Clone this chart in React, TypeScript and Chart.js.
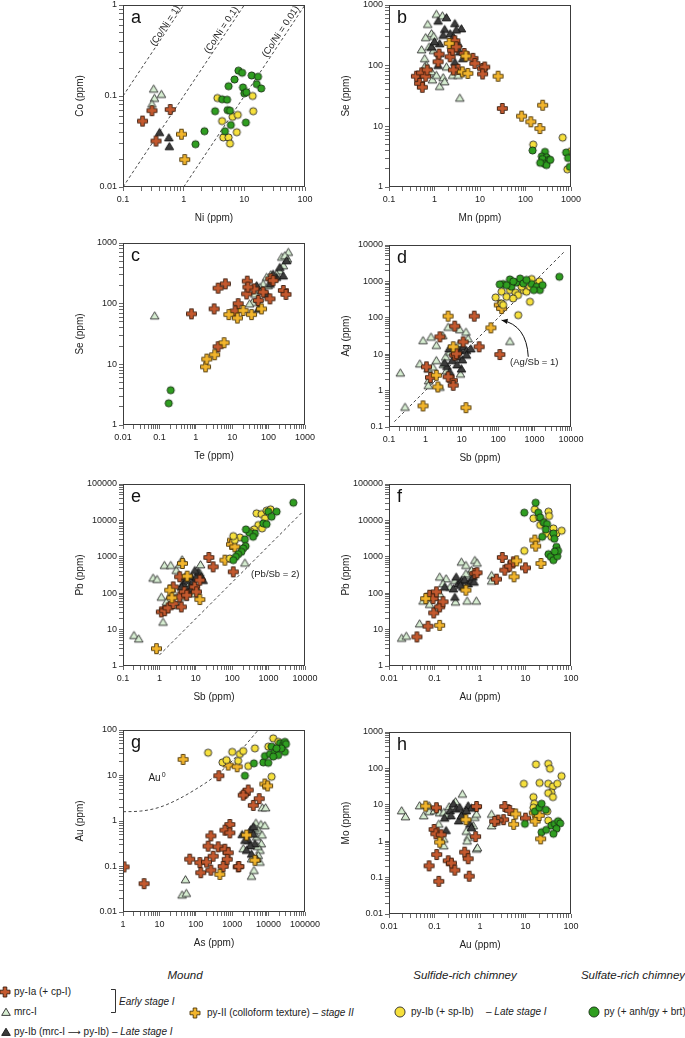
import React, { useEffect, useRef } from 'react';
import { Chart, registerables } from 'chart.js';

Chart.register(...registerables);

const FONT = '"Liberation Sans", Arial, Helvetica, sans-serif';

// ---------------- DATA ----------------
// series order in every panel: mrc-I, py-Ib (mrc-I -> py-Ib), py-Ia, py-II, py-Ib (sulfide chimney), py (sulfate chimney)

// Panel a: Ni (x) vs Co (y)
const aMrc = [[0.32, 0.12], [0.43, 0.105], [0.33, 0.095], [0.30, 0.082]];
const aPyIbM = [[0.40, 0.040], [0.57, 0.035], [0.58, 0.028]];
const aPyIa = [[0.21, 0.053], [0.30, 0.069], [0.60, 0.071], [0.35, 0.032]];
const aPyII = [[0.92, 0.038], [1.04, 0.020]];
const aPyIbS = [[3.6, 0.095], [4.3, 0.053], [4.5, 0.035], [5.5, 0.035], [5.8, 0.030], [6.4, 0.059], [7.8, 0.062], [7.5, 0.040], [13.7, 0.10], [14, 0.068]];
const aPy = [[1.57, 0.0295], [2.2, 0.041], [3.3, 0.068], [4.3, 0.092], [5.2, 0.091], [5.5, 0.128], [5.3, 0.070], [5.8, 0.069], [6.0, 0.048], [4.8, 0.041], [6.9, 0.152], [8.0, 0.19], [9.2, 0.18], [9.5, 0.124], [10, 0.107], [10.8, 0.11], [10.6, 0.051], [13.2, 0.168], [16.8, 0.163], [16, 0.135], [19, 0.121]];
const CO_NI_RATIOS = [1, 0.1, 0.01];
const CO_NI_LABELS = ['(Co/Ni = 1)', '(Co/Ni = 0.1)', '(Co/Ni = 0.01)'];

// Panel b: Mn (x) vs Se (y)
const bMrc = [[1.10, 710], [1.49, 667], [0.71, 485], [0.86, 340], [0.96, 307], [0.64, 293], [0.52, 185], [0.61, 132], [0.76, 205], [0.66, 102], [0.86, 80], [0.90, 59], [1.3, 46], [1.55, 64], [1.67, 55], [1.83, 96], [2.5, 70], [3.3, 70], [3.6, 29.5], [1.3, 159], [0.61, 96], [1.1, 70], [0.95, 180]];
const bPyIbM = [[1.2, 550], [1.83, 625], [2.8, 500], [3.9, 410], [1.67, 400], [1.3, 233], [1.2, 102], [3.3, 233], [2.8, 115], [2.2, 340], [0.86, 205], [2.6, 300], [3.6, 170], [1.0, 250], [1.55, 320], [3.0, 390], [4.2, 132]];
const bPyIa = [[0.40, 67], [0.52, 76], [0.47, 51], [0.54, 44], [0.64, 67], [0.69, 85], [1.2, 116], [1.26, 155], [2.2, 140], [2.5, 180], [2.8, 258], [3.0, 205], [3.3, 87], [2.6, 85], [4.5, 159], [7.0, 132], [7.7, 109], [11.4, 90], [12.7, 95], [11.4, 73], [31, 19.7]];
const bPyII = [[2.1, 233], [4.9, 144], [4.1, 79], [5.4, 74.5], [25, 67], [82, 14.7], [131, 11.9], [207, 9.2], [238, 22.3]];
const bPyIbS = [[148, 5.0], [656, 6.5], [1000, 3.9], [830, 1.96]];
const bPy = [[143, 4.0], [268, 3.8], [228, 3.2], [290, 3.1], [236, 2.9], [330, 2.8], [262, 2.4], [290, 2.3], [350, 2.8], [780, 3.7], [860, 3.0], [940, 2.15], [210, 2.5]];

// Panel c: Te (x) vs Se (y)
const cMrc = [[0.074, 63.6], [348, 710], [330, 550], [254, 427], [200, 350], [166, 310], [115, 303], [88, 275], [71, 212], [58, 187], [47, 175], [97, 200], [64, 165], [42, 145], [36, 106], [30, 100], [52, 120], [230, 590], [280, 625], [133, 257]];
const cPyIbM = [[313, 516], [253, 290], [203, 400], [166, 275], [110, 212], [133, 310], [71, 165], [52, 82], [47, 200], [88, 145]];
const cPyIa = [[0.76, 68], [3.2, 82], [4.1, 180], [6.5, 212], [26, 235], [39.5, 175], [25, 145], [14.6, 100], [12, 76], [52, 113], [71, 155], [109, 120], [115, 257], [133, 240], [254, 165], [300, 142], [27, 188], [4.1, 19.5]];
const cPyII = [[8.1, 66], [13.9, 58], [20, 77], [34, 66], [64, 82], [1.85, 9.1], [2.0, 12.2], [3.3, 14.4], [6.0, 22.7]];
const cPyIbS: number[][] = [];
const cPy = [[0.205, 3.74], [0.18, 2.28]];

// Panel d: Sb (x) vs Ag (y)
const dMrc = [[0.205, 3.1], [0.276, 0.355], [0.86, 24], [1.43, 30], [2.0, 17.7], [3.0, 33], [4.2, 56], [8.8, 48], [13, 41], [14.9, 27], [8.4, 19.7], [0.7, 5.5], [1.18, 4.0], [1.6, 4.5], [3.1, 5.3], [2.0, 6.8], [1.23, 1.9], [2.5, 1.26], [1.2, 1.4], [210, 22.8], [3.6, 8.5], [4.7, 11.6], [9.2, 2.9], [3.8, 3.6]];
const dPyIbM = [[4.5, 14.3], [6.4, 10.4], [8.8, 12.9], [10.9, 16], [13.5, 12.9], [17.7, 14.3], [7.9, 8.5], [10.4, 7.1], [13.5, 9.6], [5.5, 6.8], [3.9, 4.7], [4.7, 3.3], [9.8, 4.0], [7.4, 5.2], [3.4, 5.8]];
const dPyIa = [[22, 111], [6.4, 59], [2.5, 30], [10.9, 21.8], [30, 16], [111, 9.8], [1.07, 4.5], [1.38, 2.3], [5.5, 1.9], [4.2, 2.4], [5.8, 1.4], [6.4, 9.4], [7.1, 10.3]];
const dPyII = [[4.2, 111], [5.8, 16], [2.0, 2.64], [2.2, 1.26], [0.86, 0.38], [13, 0.34], [63, 53], [107, 224], [124, 180]];
const dPyIbS = [[85, 363], [124, 520], [170, 378], [124, 248], [137, 225], [210, 577], [300, 490], [350, 420], [490, 577], [600, 520], [750, 715], [1000, 880], [1350, 1000], [745, 275], [355, 118], [257, 340], [440, 715], [830, 1160]];
const dPy = [[4780, 1340], [137, 845], [210, 1135], [230, 713], [316, 930], [400, 1200], [490, 880], [830, 845], [1135, 713], [1400, 577], [1660, 790], [950, 577], [170, 790], [260, 1000], [600, 1100], [110, 830]];
const AG_SB_RATIO = 1;
const AG_SB_LINE_X = [0.14, 6800];

// Panel e: Sb (x) vs Pb (y)
const eMrc = [[0.2, 7.0], [0.27, 5.65], [0.67, 264], [0.86, 243], [1.37, 590], [2.05, 590], [2.9, 430], [3.6, 628], [4.2, 845], [13.5, 615], [1.26, 16.3], [1.13, 79], [1.55, 58], [2.0, 88], [2.9, 47], [4.9, 79], [8.4, 98], [10.4, 134], [223, 684], [2.4, 109], [12.9, 364], [6.7, 185]];
const ePyIbM = [[4.45, 185], [5.5, 228], [6.8, 149], [7.6, 282], [8.4, 205], [10.4, 282], [11.6, 386], [14.3, 282], [15.9, 228], [9.4, 430], [6.1, 109], [7.6, 134], [4.0, 149], [5.0, 282]];
const ePyIa = [[22.8, 960], [30, 530], [107, 386], [3.6, 282], [2.4, 149], [4.0, 42], [1.13, 30.6], [1.4, 33], [1.73, 39.5], [2.4, 52], [3.6, 79], [4.8, 109], [9.3, 149], [10.4, 109], [12.9, 228], [5.6, 88]];
const ePyII = [[4.3, 656], [5.8, 294], [1.92, 121], [2.2, 74.5], [12.9, 67], [0.83, 3.0], [102, 2880], [96, 2190], [63, 810], [118, 1880]];
const ePyIbS = [[468, 15600], [640, 14900], [795, 11400], [880, 18500], [1130, 20100], [520, 7450], [660, 6030], [400, 5660], [320, 4880], [163, 3400], [118, 2880], [86, 900], [107, 3700]];
const ePy = [[4780, 30600], [980, 17400], [1660, 17400], [1210, 12600], [713, 8260], [880, 7900], [420, 4380], [294, 4580], [238, 5650], [375, 3550], [223, 3000], [233, 1970], [200, 1700], [179, 1370], [146, 1180], [126, 1000], [107, 810]];
const PB_SB_RATIO = 2;
const PB_SB_LINE_X = [1, 8000];

// Panel f: Au (x) vs Pb (y)
const fMrc = [[0.019, 5.9], [0.024, 6.7], [0.047, 14.6], [0.056, 62], [0.078, 50], [0.116, 42], [0.10, 79], [0.13, 98], [0.18, 254], [0.28, 228], [0.22, 149], [0.29, 58], [0.52, 62], [0.83, 62], [0.39, 728], [0.49, 590], [0.65, 430], [0.77, 810], [0.86, 684], [0.55, 313], [1.8, 313], [1.8, 219], [0.13, 282], [0.154, 185], [0.066, 79], [0.49, 346]];
const fPyIbM = [[0.167, 149], [0.28, 79], [0.33, 185], [0.39, 228], [0.46, 236], [0.55, 185], [0.65, 228], [0.7, 282], [0.74, 205], [0.42, 149], [0.26, 134], [0.3, 282], [0.37, 167]];
const fPyIa = [[0.041, 6.3], [0.072, 12.4], [0.078, 88], [0.093, 71], [0.096, 28.8], [0.13, 42], [0.154, 58], [0.11, 109], [0.77, 348], [0.86, 365], [3.1, 960], [3.5, 430], [4.5, 553], [5.4, 728], [10, 498], [2.3, 243]];
const fPyII = [[0.064, 71], [0.13, 13.1], [0.49, 121], [6.4, 775], [5.6, 282], [21.9, 656], [16, 2880], [16.7, 1970]];
const fPyIbS = [[9.4, 1460], [16, 20100], [14.9, 11400], [20, 12100], [21, 7450], [24.6, 9180], [32, 17400], [33, 13200], [28.5, 4380], [37, 3550], [48, 4380], [62.4, 5200], [41, 6030]];
const fPy = [[16.7, 30600], [9.4, 16300], [19.1, 16300], [21, 12100], [25.4, 8630], [29.7, 7940], [28, 5650], [23.3, 3550], [41, 4380], [43, 3130], [32, 1180], [36, 1000], [41, 810], [50, 1040], [48, 1880], [52, 1460], [44, 1400]];

// Panel g: As (x) vs Au (y)
const gMrc = [[52, 0.052], [42, 0.024], [55, 0.026], [6700, 1.98], [8270, 1.98], [4480, 0.91], [6150, 0.85], [5200, 0.63], [4700, 0.45], [6300, 0.32], [5800, 0.23], [5200, 0.177], [3400, 0.149], [5800, 0.126], [3400, 0.062], [3970, 0.083], [2010, 0.25], [7900, 0.8], [4200, 0.7], [6600, 0.5], [5000, 0.28]];
const gPyIbM = [[1880, 0.51], [2750, 0.38], [3200, 0.65], [3800, 0.75], [4200, 0.32], [3100, 0.29], [2480, 0.23], [3400, 0.19], [4700, 0.15], [3800, 0.52], [2230, 0.38]];
const gPyIa = [[1.07, 0.098], [3.8, 0.042], [430, 9.9], [2230, 4.0], [2750, 4.8], [2010, 3.7], [3790, 2.2], [5530, 3.1], [860, 0.84], [630, 0.63], [860, 0.55], [260, 0.47], [218, 0.28], [412, 0.27], [630, 0.24], [776, 0.2], [300, 0.168], [68, 0.145], [129, 0.122], [196, 0.125], [137, 0.073], [260, 0.083], [565, 0.1], [730, 0.144], [1460, 0.098], [1530, 0.1]];
const gPyII = [[44.8, 22.6], [776, 17], [1370, 15.6], [7900, 6.5], [9400, 5.9], [2480, 0.49], [4200, 0.137], [458, 0.067]];
const gPyIbS = [[218, 31.7], [542, 19.4], [698, 21.8], [1000, 33], [1460, 21], [1620, 29.6], [2010, 34.5], [2750, 16.1], [4200, 39.5], [12100, 9.4], [13400, 65.6], [9800, 43], [18400, 55]];
const gPy = [[2230, 9.9], [3950, 18.5], [7130, 19.4], [7920, 26.8], [9800, 19], [10900, 29.6], [12100, 43], [14900, 33], [20500, 51], [25000, 47], [28000, 55], [30000, 49], [28000, 33], [22400, 39.5], [18400, 28], [13400, 26], [16500, 39.5]];
const AU0_CURVE = [[1, 1.6], [3, 1.65], [10, 2.0], [30, 2.9], [100, 5.0], [300, 9.0], [1000, 21], [2500, 50], [5200, 100]];

// Panel h: Au (x) vs Mo (y)
const hMrc = [[0.019, 7.0], [0.023, 4.8], [0.047, 9.6], [0.058, 5.1], [0.076, 6.6], [0.076, 9.6], [0.1, 7.0], [0.116, 8.6], [0.124, 3.0], [0.13, 6.1], [0.16, 6.3], [0.16, 1.16], [0.16, 0.76], [0.21, 9.0], [0.18, 5.1], [0.29, 12.4], [0.41, 20], [0.5, 1.9], [0.55, 1.29], [0.52, 1.03], [0.71, 2.7], [0.77, 4.6], [0.84, 0.62], [0.88, 0.67], [0.84, 5.6], [1.8, 5.6], [1.8, 2.7]];
const hPyIbM = [[0.18, 2.0], [0.167, 4.4], [0.22, 7.0], [0.26, 10.7], [0.3, 7.8], [0.36, 8.6], [0.42, 5.9], [0.55, 9.6], [0.65, 8.2], [0.34, 3.7], [0.39, 5.1], [0.6, 3.0], [0.84, 9.6], [0.23, 5.1], [0.5, 7.0], [0.65, 2.4]];
const hPyIa = [[0.11, 8.3], [0.098, 2.1], [0.107, 1.6], [0.14, 1.5], [0.112, 0.43], [0.076, 0.21], [0.124, 0.079], [0.2, 0.29], [0.235, 0.25], [0.28, 0.16], [0.46, 0.5], [0.55, 0.33], [0.58, 0.109], [0.8, 1.34], [0.84, 9.0], [3.5, 9.0], [4.5, 7.0], [3.3, 3.9], [2.5, 3.8], [2.1, 3.5], [10, 4.3]];
const hPyII = [[0.064, 9.2], [0.13, 0.94], [0.49, 3.9], [6.1, 5.6], [5.5, 2.9], [15.6, 6.0], [16.3, 3.55], [20, 5.1], [21.5, 1.16]];
const hPyIbS = [[9.2, 37.8], [17, 129], [31.6, 134], [34.5, 98], [20.4, 40], [31.6, 38], [40, 32], [37, 22], [31.6, 21], [40, 16.3], [62, 61.5], [50, 38], [14.9, 16.3], [15.6, 10.7], [14.9, 8.3], [30, 6.6], [31.6, 3.7]];
const hPy = [[9.7, 3.0], [16.1, 6.6], [20.1, 8.3], [22.6, 10.7], [28, 7.3], [22.6, 1.77], [28.5, 2.05], [37, 2.7], [44, 3.0], [52, 3.55], [58, 3.1], [48, 2.2], [41, 1.6]];

// ---------------- STYLES ----------------
const SERIES = [
  { label: 'mrc-I', kind: 'tri', fill: '#d6edd1', stroke: '#2a2a2a', order: 6 },
  { label: 'py-Ib (mrc-I → py-Ib)', kind: 'tri', fill: '#3c3c3c', stroke: '#111111', order: 5 },
  { label: 'py-Ia (+ cp-I)', kind: 'cross', fill: '#c4592e', stroke: '#3a1c0c', order: 4 },
  { label: 'py-II (colloform texture)', kind: 'cross', fill: '#f2b52c', stroke: '#4d3507', order: 3 },
  { label: 'py-Ib (+ sp-Ib)', kind: 'circle', fill: '#f6e03c', stroke: '#2a2a2a', order: 2 },
  { label: 'py (+ anh/gy + brt)', kind: 'circle', fill: '#2f9e20', stroke: '#163012', order: 1 },
];

function shapePath(g: CanvasRenderingContext2D, kind: string, m: number, scale: number) {
  g.beginPath();
  if (kind === 'cross') {
    const h = 5 * scale, t = 1.8 * scale;
    g.moveTo(m - t, m - h); g.lineTo(m + t, m - h); g.lineTo(m + t, m - t); g.lineTo(m + h, m - t);
    g.lineTo(m + h, m + t); g.lineTo(m + t, m + t); g.lineTo(m + t, m + h); g.lineTo(m - t, m + h);
    g.lineTo(m - t, m + t); g.lineTo(m - h, m + t); g.lineTo(m - h, m - t); g.lineTo(m - t, m - t);
  } else if (kind === 'tri') {
    g.moveTo(m, m - 3.8 * scale); g.lineTo(m + 4.3 * scale, m + 3.4 * scale); g.lineTo(m - 4.3 * scale, m + 3.4 * scale);
  } else {
    g.arc(m, m, 3.6 * scale, 0, Math.PI * 2);
  }
  g.closePath();
}

function markerCanvas(kind: string, fill: string, stroke: string) {
  const S = 13;
  const c = document.createElement('canvas');
  c.width = S; c.height = S;
  const g = c.getContext('2d') as CanvasRenderingContext2D;
  shapePath(g, kind, S / 2, 1);
  g.fillStyle = fill; g.fill();
  g.lineWidth = 0.9; g.strokeStyle = stroke; g.stroke();
  return c;
}

// ---------------- HELPERS ----------------
function logTicks(min: number, max: number) {
  const out: any[] = [];
  const e0 = Math.floor(Math.log10(min) + 1e-9);
  const e1 = Math.ceil(Math.log10(max) - 1e-9);
  for (let e = e0; e <= e1; e++) {
    for (let m = 1; m <= 9; m++) {
      const v = m * Math.pow(10, e);
      if (v >= min * 0.999 && v <= max * 1.001) out.push({ value: v, major: m === 1 });
    }
  }
  return out;
}
function fmt(v: number) {
  const e = Math.round(Math.log10(v));
  return e < 0 ? v.toFixed(-e) : String(Math.round(v));
}
function ratioSegment(r: number, xMin: number, xMax: number, yMin: number, yMax: number) {
  const x0 = Math.max(xMin, yMin / r), x1 = Math.min(xMax, yMax / r);
  return [[x0, x0 * r], [x1, x1 * r]];
}

const PLOT = 182, YW = 60, XH = 40, PT = 12, PR = 20;
const CW = YW + PLOT + PR, CH = PT + PLOT + XH;

const PANELS: any[] = [
  {
    letter: 'a', left: 123, top: 5, x: [0.1, 100], y: [0.01, 1], xTitle: 'Ni (ppm)', yTitle: 'Co (ppm)',
    data: [aMrc, aPyIbM, aPyIa, aPyII, aPyIbS, aPy],
    lines: CO_NI_RATIOS.map((r) => ({ pts: ratioSegment(r, 0.1, 100, 0.01, 1) })),
    notes: [
      { x: 0.5, y: 0.59, text: CO_NI_LABELS[0], ratio: CO_NI_RATIOS[0] },
      { x: 4.2, y: 0.53, text: CO_NI_LABELS[1], ratio: CO_NI_RATIOS[1] },
      { x: 40, y: 0.51, text: CO_NI_LABELS[2], ratio: CO_NI_RATIOS[2] },
    ],
  },
  {
    letter: 'b', left: 389, top: 5, x: [0.1, 1000], y: [1, 1000], xTitle: 'Mn (ppm)', yTitle: 'Se (ppm)',
    data: [bMrc, bPyIbM, bPyIa, bPyII, bPyIbS, bPy], lines: [], notes: [],
  },
  {
    letter: 'c', left: 123, top: 243, x: [0.01, 1000], y: [1, 1000], xTitle: 'Te (ppm)', yTitle: 'Se (ppm)',
    data: [cMrc, cPyIbM, cPyIa, cPyII, cPyIbS, cPy], lines: [], notes: [],
  },
  {
    letter: 'd', left: 389, top: 245, x: [0.1, 10000], y: [0.1, 10000], xTitle: 'Sb (ppm)', yTitle: 'Ag (ppm)',
    data: [dMrc, dPyIbM, dPyIa, dPyII, dPyIbS, dPy],
    lines: [{ pts: AG_SB_LINE_X.map((x) => [x, x * AG_SB_RATIO]) }],
    notes: [{ x: 980, y: 5.9, text: '(Ag/Sb = 1)' }],
    arrow: { from: [670, 8.5], ctrl: [603, 63], to: [124, 86] },
  },
  {
    letter: 'e', left: 123, top: 484, x: [0.1, 10000], y: [1, 100000], xTitle: 'Sb (ppm)', yTitle: 'Pb (ppm)',
    data: [eMrc, ePyIbM, ePyIa, ePyII, ePyIbS, ePy],
    lines: [{ pts: PB_SB_LINE_X.map((x) => [x, x * PB_SB_RATIO]) }],
    notes: [{ x: 1525, y: 327, text: '(Pb/Sb = 2)' }],
  },
  {
    letter: 'f', left: 389, top: 484, x: [0.01, 100], y: [1, 100000], xTitle: 'Au (ppm)', yTitle: 'Pb (ppm)',
    data: [fMrc, fPyIbM, fPyIa, fPyII, fPyIbS, fPy], lines: [], notes: [],
  },
  {
    letter: 'g', left: 123, top: 730, x: [1, 100000], y: [0.01, 100], xTitle: 'As (ppm)', yTitle: 'Au (ppm)',
    data: [gMrc, gPyIbM, gPyIa, gPyII, gPyIbS, gPy],
    lines: [{ pts: AU0_CURVE, smooth: true }],
    notes: [{ x: 8.6, y: 8.6, text: 'Au', sup: '0' }],
  },
  {
    letter: 'h', left: 389, top: 732, x: [0.01, 100], y: [0.01, 1000], xTitle: 'Au (ppm)', yTitle: 'Mo (ppm)',
    data: [hMrc, hPyIbM, hPyIa, hPyII, hPyIbS, hPy], lines: [], notes: [],
  },
];

const decorPlugin = {
  id: 'decor',
  afterDatasetsDraw(chart: any, _args: any, o: any) {
    const { ctx, chartArea: a, scales } = chart;
    const sx = scales.x, sy = scales.y;
    const px = (v: number) => sx.getPixelForValue(v);
    const py = (v: number) => sy.getPixelForValue(v);
    ctx.save();
    ctx.strokeStyle = '#3c3c3c';
    ctx.lineWidth = 1;
    ctx.strokeRect(Math.round(a.left) + 0.5, Math.round(a.top) + 0.5, Math.round(a.width) - 1, Math.round(a.height) - 1);

    ctx.fillStyle = '#111';
    ctx.font = `18px ${FONT}`;
    ctx.textAlign = 'left';
    ctx.textBaseline = 'alphabetic';
    ctx.fillText(o.letter, a.left + 8, a.top + 18);

    ctx.fillStyle = '#222';
    (o.notes || []).forEach((n: any) => {
      ctx.save();
      ctx.translate(px(n.x), py(n.y));
      if (n.ratio) {
        const ang = Math.atan2(py(10 * n.ratio) - py(n.ratio), px(10) - px(1));
        ctx.rotate(ang);
      }
      ctx.textBaseline = 'middle';
      if (n.sup) {
        ctx.font = `10px ${FONT}`;
        const w1 = ctx.measureText(n.text).width;
        ctx.font = `7px ${FONT}`;
        const w2 = ctx.measureText(n.sup).width;
        const x0 = -(w1 + w2 + 1) / 2;
        ctx.textAlign = 'left';
        ctx.font = `10px ${FONT}`;
        ctx.fillText(n.text, x0, 0);
        ctx.font = `7px ${FONT}`;
        ctx.fillText(n.sup, x0 + w1 + 1, -3);
      } else {
        ctx.font = `9.5px ${FONT}`;
        ctx.textAlign = 'center';
        ctx.fillText(n.text, 0, 0);
      }
      ctx.restore();
    });

    if (o.arrow) {
      const f = o.arrow.from, c = o.arrow.ctrl, t = o.arrow.to;
      const x0 = px(f[0]), y0 = py(f[1]), cx = px(c[0]), cy = py(c[1]), x1 = px(t[0]), y1 = py(t[1]);
      ctx.strokeStyle = '#111';
      ctx.lineWidth = 1;
      ctx.beginPath();
      ctx.moveTo(x0, y0);
      ctx.quadraticCurveTo(cx, cy, x1, y1);
      ctx.stroke();
      const ang = Math.atan2(y1 - cy, x1 - cx);
      const L = 6, W = 2.6;
      ctx.fillStyle = '#111';
      ctx.beginPath();
      ctx.moveTo(x1, y1);
      ctx.lineTo(x1 - L * Math.cos(ang) + W * Math.sin(ang), y1 - L * Math.sin(ang) - W * Math.cos(ang));
      ctx.lineTo(x1 - L * Math.cos(ang) - W * Math.sin(ang), y1 - L * Math.sin(ang) + W * Math.cos(ang));
      ctx.closePath();
      ctx.fill();
    }
    ctx.restore();
  },
};

function axisOpts(horiz: boolean, range: number[], title: string) {
  const [min, max] = range;
  return {
    type: 'logarithmic',
    min, max,
    position: horiz ? 'bottom' : 'left',
    afterBuildTicks: (s: any) => { s.ticks = logTicks(min, max); },
    afterFit: (s: any) => { if (horiz) s.height = XH; else s.width = YW; },
    ticks: {
      autoSkip: false, maxRotation: 0, minRotation: 0,
      padding: horiz ? 3 : 2,
      font: { size: 9, family: FONT }, color: '#222',
      callback: (v: number, i: number, ticks: any[]) => (ticks[i] && ticks[i].major ? fmt(v) : ''),
    },
    grid: { drawOnChartArea: false, drawTicks: true, tickLength: 4, color: '#444', lineWidth: 0.8 },
    border: { display: false },
    title: {
      display: true, text: title, color: '#222',
      font: { size: 10, family: FONT },
      padding: horiz ? { top: 0, bottom: 3 } : { top: 11, bottom: 0 },
    },
  };
}

function Panel({ p }: { p: any }) {
  const ref = useRef<HTMLCanvasElement | null>(null);
  useEffect(() => {
    const markers = SERIES.map((s) => markerCanvas(s.kind, s.fill, s.stroke));
    const datasets: any[] = [];
    SERIES.forEach((s, i) => {
      const pts = p.data[i];
      if (!pts || !pts.length) return;
      datasets.push({
        type: 'scatter', label: s.label,
        data: pts.map((q: number[]) => ({ x: q[0], y: q[1] })),
        pointStyle: markers[i], pointRadius: 4, pointHoverRadius: 4,
        order: s.order,
      });
    });
    p.lines.forEach((l: any) => {
      datasets.push({
        type: 'line', label: 'ref',
        data: l.pts.map((q: number[]) => ({ x: q[0], y: q[1] })),
        showLine: true, fill: false, borderColor: '#333', borderWidth: 0.9,
        borderDash: [3, 2.5], pointRadius: 0,
        tension: l.smooth ? 0.4 : 0,
        cubicInterpolationMode: l.smooth ? 'monotone' : 'default',
        order: 20,
      });
    });
    const chart = new Chart(ref.current as HTMLCanvasElement, {
      type: 'scatter',
      data: { datasets },
      options: {
        responsive: false, animation: false, events: [],
        layout: { padding: { left: 0, right: PR, top: PT, bottom: 0 } },
        plugins: {
          legend: { display: false }, tooltip: { enabled: false },
          decor: { letter: p.letter, notes: p.notes, arrow: p.arrow },
        } as any,
        scales: {
          x: axisOpts(true, p.x, p.xTitle) as any,
          y: axisOpts(false, p.y, p.yTitle) as any,
        },
      },
      plugins: [decorPlugin],
    } as any);
    return () => chart.destroy();
  }, []);
  return (
    <canvas
      ref={ref}
      width={CW}
      height={CH}
      style={{ position: 'absolute', left: p.left - YW, top: p.top - PT, width: CW, height: CH }}
    />
  );
}

function Icon({ kind, fill, stroke, cx, cy, scale }: any) {
  const S = 16;
  const m = S / 2;
  let el: any;
  if (kind === 'cross') {
    const h = 5 * scale, t = 1.8 * scale;
    const pts = [[m - t, m - h], [m + t, m - h], [m + t, m - t], [m + h, m - t], [m + h, m + t], [m + t, m + t], [m + t, m + h], [m - t, m + h], [m - t, m + t], [m - h, m + t], [m - h, m - t], [m - t, m - t]];
    el = <polygon points={pts.map((q) => q.join(',')).join(' ')} fill={fill} stroke={stroke} strokeWidth={0.9} />;
  } else if (kind === 'tri') {
    const pts = [[m, m - 3.8 * scale], [m + 4.3 * scale, m + 3.4 * scale], [m - 4.3 * scale, m + 3.4 * scale]];
    el = <polygon points={pts.map((q) => q.join(',')).join(' ')} fill={fill} stroke={stroke} strokeWidth={0.9} />;
  } else {
    el = <circle cx={m} cy={m} r={3.6 * scale} fill={fill} stroke={stroke} strokeWidth={0.9} />;
  }
  return (
    <svg width={S} height={S} style={{ position: 'absolute', left: cx - m, top: cy - m, overflow: 'visible' }}>
      {el}
    </svg>
  );
}

const txt: any = { position: 'absolute', fontFamily: FONT, fontSize: 10, lineHeight: '12px', color: '#222', whiteSpace: 'nowrap' };
const head: any = { position: 'absolute', fontFamily: FONT, fontSize: 11.5, lineHeight: '14px', color: '#222', whiteSpace: 'nowrap', fontStyle: 'italic', transform: 'translateX(-50%)' };

export default function App() {
  return (
    <div style={{ position: 'absolute', left: 0, top: 0, width: 685, height: 1038, background: '#fff', overflow: 'hidden' }}>
      {PANELS.map((p) => <Panel key={p.letter} p={p} />)}

      <div style={{ ...head, left: 185, top: 968 }}>Mound</div>
      <div style={{ ...head, left: 465, top: 968 }}>Sulfide-rich chimney</div>
      <div style={{ ...head, left: 633, top: 968 }}>Sulfate-rich chimney</div>

      <Icon kind="cross" fill={SERIES[2].fill} stroke={SERIES[2].stroke} cx={5} cy={992} scale={1} />
      <div style={{ ...txt, left: 14, top: 986 }}>py-Ia (+ cp-I)</div>
      <Icon kind="tri" fill={SERIES[0].fill} stroke={SERIES[0].stroke} cx={6} cy={1012} scale={1} />
      <div style={{ ...txt, left: 14, top: 1006 }}>mrc-I</div>
      <Icon kind="tri" fill={SERIES[1].fill} stroke={SERIES[1].stroke} cx={6} cy={1032} scale={1} />
      <div style={{ ...txt, left: 14, top: 1026 }}>py-Ib (mrc-I <span style={{ fontFamily: '"DejaVu Sans", sans-serif', fontSize: 9 }}>⟶</span> py-Ib) – <i>Late stage I</i></div>

      <svg width={10} height={30} style={{ position: 'absolute', left: 108, top: 986 }}>
        <path d="M3 3.5 H7.5 V26.5 H3" fill="none" stroke="#333" strokeWidth={1} />
      </svg>
      <div style={{ ...txt, left: 119, top: 996, fontStyle: 'italic' }}>Early stage I</div>

      <Icon kind="cross" fill={SERIES[3].fill} stroke={SERIES[3].stroke} cx={195} cy={1013} scale={1} />
      <div style={{ ...txt, left: 207, top: 1007 }}>py-II (colloform texture) – <i>stage II</i></div>

      <Icon kind="circle" fill={SERIES[4].fill} stroke={SERIES[4].stroke} cx={400} cy={1012} scale={1.4} />
      <div style={{ ...txt, left: 411, top: 1006 }}>py-Ib (+ sp-Ib)</div>
      <div style={{ ...txt, left: 486, top: 1006 }}>– <i>Late stage I</i></div>

      <Icon kind="circle" fill={SERIES[5].fill} stroke={SERIES[5].stroke} cx={594} cy={1012} scale={1.4} />
      <div style={{ ...txt, left: 604, top: 1006 }}>py (+ anh/gy + brt)</div>
    </div>
  );
}
